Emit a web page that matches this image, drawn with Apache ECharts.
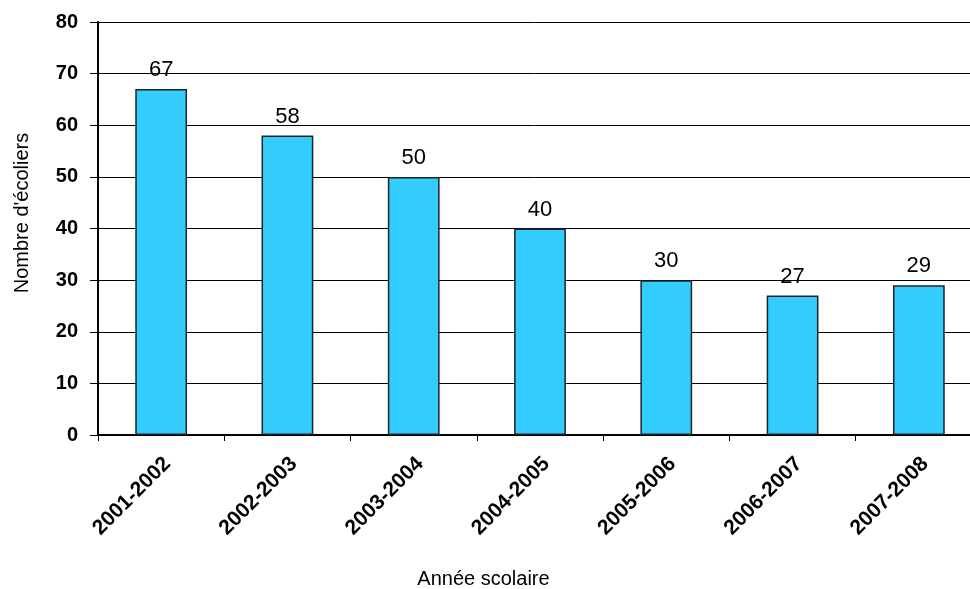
<!DOCTYPE html>
<html>
<head>
<meta charset="utf-8">
<script src="https://cdn.jsdelivr.net/npm/echarts@6/dist/echarts.min.js"></script>
<style>
html,body{margin:0;padding:0;background:#fff;}
#chart{width:970px;height:589px;}
</style>
</head>
<body>
<div id="chart"></div>
<script>
const categories = ['2001-2002','2002-2003','2003-2004','2004-2005','2005-2006','2006-2007','2007-2008'];
const values = [67, 58, 50, 40, 30, 27, 29];
const yTicks = [0, 10, 20, 30, 40, 50, 60, 70, 80];

const FONT = "'Liberation Sans','Arial',sans-serif";
const chart = echarts.init(document.getElementById('chart'), null, {renderer: 'canvas'});
chart.setOption({
  backgroundColor: '#ffffff',
  animation: false,
  grid: {left: 98, width: 884, top: 22, height: 413, containLabel: false, outerBoundsMode: 'none'},
  xAxis: {
    type: 'category',
    data: categories,
    name: 'Année scolaire',
    nameLocation: 'middle',
    nameGap: 134,
    nameTextStyle: {fontFamily: FONT, fontSize: 20, color: '#000', padding: [0, 113, 0, 0]},
    axisLine: {lineStyle: {color: '#000', width: 2}},
    axisTick: {show: true, length: 6, lineStyle: {color: '#000', width: 1}},
    axisLabel: {rotate: 45, margin: 32, padding: [0, -9, 0, 0], fontFamily: FONT, fontSize: 21, fontWeight: 'bold', color: '#000', interval: 0}
  },
  yAxis: {
    type: 'value',
    min: yTicks[0],
    max: yTicks[yTicks.length - 1],
    interval: 10,
    name: "Nombre d'écoliers",
    nameLocation: 'middle',
    nameGap: 66,
    nameRotate: 90,
    nameTextStyle: {fontFamily: FONT, fontSize: 20, color: '#000', padding: [0, 0, 0, 31]},
    axisLine: {show: true, lineStyle: {color: '#000', width: 2}},
    axisTick: {show: true, length: 8, lineStyle: {color: '#000', width: 1}},
    axisLabel: {margin: 20, padding: [6, 0, 0, 0], fontFamily: FONT, fontSize: 20, fontWeight: 'bold', color: '#000'},
    splitLine: {show: true, lineStyle: {color: '#000', width: 1}}
  },
  series: [{
    type: 'bar',
    data: values,
    barWidth: '41%',
    itemStyle: {color: '#33CCFF', borderColor: '#222', borderWidth: 1.5},
    label: {show: true, position: 'top', distance: 8, fontFamily: FONT, fontSize: 22, color: '#000'}
  }]
});
</script>
</body>
</html>
